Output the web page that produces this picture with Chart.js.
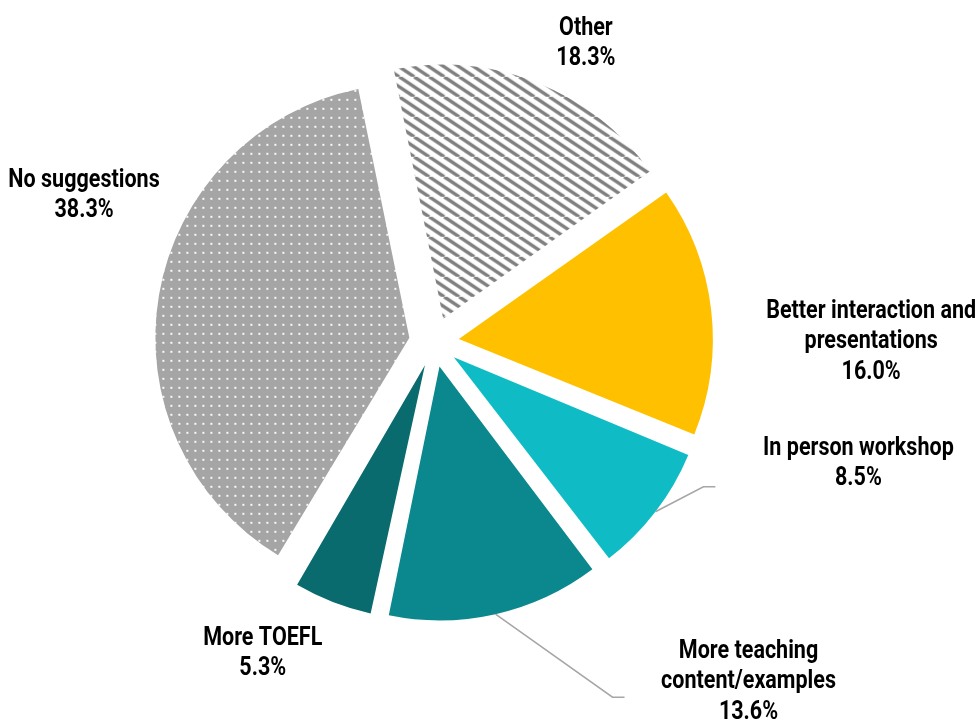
<!DOCTYPE html>
<html>
<head>
<meta charset="utf-8">
<script src="https://cdn.jsdelivr.net/npm/chart.js@4.4.1/dist/chart.umd.min.js"></script>
<style>
  body { margin: 0; background: #fff; }
  #wrap { width: 979px; height: 720px; }
</style>
</head>
<body>
<div id="wrap"><canvas id="myChart" width="979" height="720"></canvas></div>
<script>
// slices, clockwise starting from the top
const categories = ['Other', 'Better interaction and presentations', 'In person workshop',
  'More teaching content/examples', 'More TOEFL', 'No suggestions'];
const labelLines = [['Other'], ['Better interaction and', 'presentations'], ['In person workshop'],
  ['More teaching', 'content/examples'], ['More TOEFL'], ['No suggestions']];
const shares = [18.3, 16.0, 8.5, 13.6, 5.3, 38.3];

// layout / style bits
const R = 254;          // pie radius
const EXPLODE = 25;     // how far each slice is pulled out
const LINE_H = 30.5;
const TEXT_DY = 2;
const FONT = 'bold 25px Roboto, "DejaVu Sans Condensed", sans-serif';
const WIDEST = 210;     // px width of the longest label line (condensed face)
// label centre, relative to the point just outside each slice
const labelShift = [[49, -41], [160, 30], [203, -50], [253, 66], [-70, 50], [-75, -101]];
// end of leader line, relative to label centre (null = no leader)
const leaders = [null, null, [-143, 25], [-124, 17], null, null];

function stripePattern() {
  const c = document.createElement('canvas');
  c.width = 30; c.height = 20;
  const g = c.getContext('2d');
  g.fillStyle = '#fff';
  g.fillRect(0, 0, 30, 20);
  g.strokeStyle = '#7f7f7f';
  g.lineWidth = 3.4;
  for (let x0 = -45; x0 <= 45; x0 += 15) {
    g.beginPath();
    g.moveTo(x0, 0);
    g.lineTo(x0 + 30, 20);
    g.stroke();
  }
  return g.createPattern(c, 'repeat');
}

function dotPattern() {
  const c = document.createElement('canvas');
  c.width = 8; c.height = 9;
  const g = c.getContext('2d');
  g.fillStyle = '#a5a5a5';
  g.fillRect(0, 0, 8, 9);
  g.fillStyle = '#fafafa';
  g.fillRect(3, 4, 2, 2);
  return g.createPattern(c, 'repeat');
}

// chart.js grows the radius of offset slices, take that back out
const keepRadius = {
  id: 'keepRadius',
  beforeDatasetDraw(chart) {
    chart.getDatasetMeta(0).data.forEach(arc => {
      const circ = arc.endAngle - arc.startAngle;
      const fix = 1 - Math.sin(Math.min(Math.PI, circ));
      arc.outerRadius = R - EXPLODE * fix;
    });
  }
};

const sliceLabels = {
  id: 'sliceLabels',
  afterDraw(chart) {
    const ctx = chart.ctx;
    const meta = chart.getDatasetMeta(0);
    ctx.save();
    ctx.font = FONT;
    // squeeze the font to a condensed width
    const sx = WIDEST / ctx.measureText('Better interaction and').width;
    meta.data.forEach((arc, i) => {
      const mid = (arc.startAngle + arc.endAngle) / 2;
      const ax = arc.x + Math.cos(mid) * (R + EXPLODE);
      const ay = arc.y + Math.sin(mid) * (R + EXPLODE);
      const lx = ax + labelShift[i][0];
      const ly = ay + labelShift[i][1] + TEXT_DY;
      if (leaders[i]) {
        const ex = lx + leaders[i][0], ey = ly - TEXT_DY + leaders[i][1];
        ctx.strokeStyle = '#a6a6a6';
        ctx.lineWidth = 1.5;
        ctx.beginPath();
        ctx.moveTo(ax, ay);
        ctx.lineTo(ex - 12, ey);
        ctx.lineTo(ex, ey);
        ctx.stroke();
      }
      const lines = labelLines[i].concat([shares[i].toFixed(1) + '%']);
      ctx.fillStyle = '#000';
      ctx.textAlign = 'center';
      ctx.textBaseline = 'middle';
      lines.forEach((t, k) => {
        ctx.save();
        ctx.translate(lx, ly + (k - (lines.length - 1) / 2) * LINE_H);
        ctx.scale(sx, 1);
        ctx.fillText(t, 0, 0);
        ctx.restore();
      });
    });
    ctx.restore();
  }
};

new Chart(document.getElementById('myChart'), {
  type: 'pie',
  data: {
    labels: categories,
    datasets: [{
      data: shares,
      backgroundColor: [stripePattern(), '#ffc000', '#0fbcc5', '#0a888e', '#0a6b6e', dotPattern()],
      borderWidth: 0,
      offset: EXPLODE * 4,
      hoverOffset: 0
    }]
  },
  options: {
    responsive: false,
    animation: false,
    events: [],
    rotation: -11.3,
    radius: R,
    layout: { padding: { left: 0, right: 111, top: 0, bottom: 36 } },
    plugins: {
      legend: { display: false },
      tooltip: { enabled: false }
    }
  },
  plugins: [keepRadius, sliceLabels]
});
</script>
</body>
</html>
